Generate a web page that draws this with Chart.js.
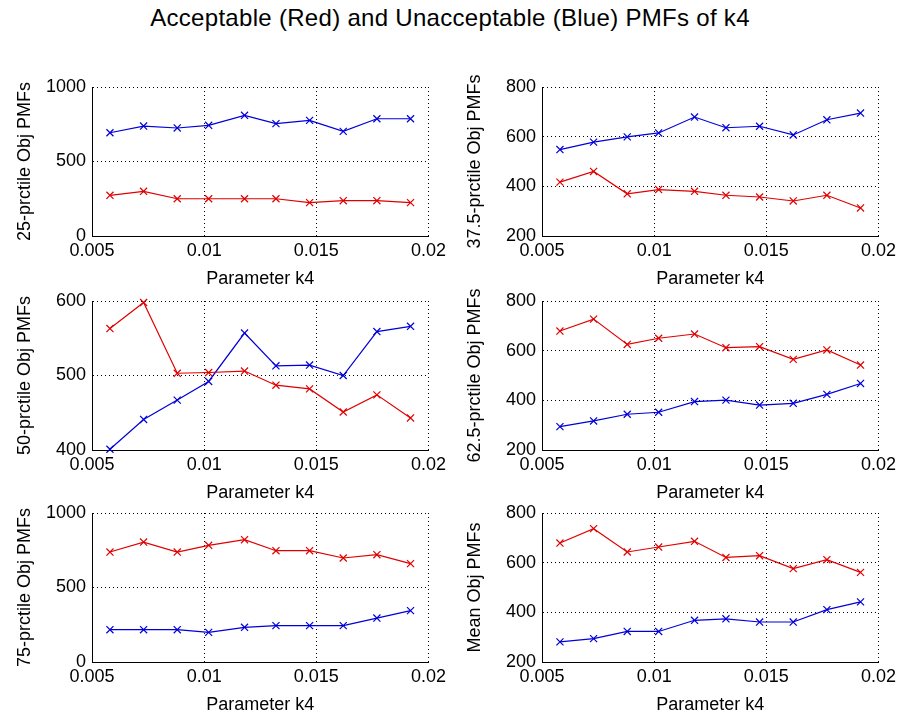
<!DOCTYPE html>
<html>
<head>
<meta charset="utf-8">
<script src="https://cdn.jsdelivr.net/npm/chart.js@4.4.1/dist/chart.umd.min.js"></script>
<style>
  body { margin: 0; background: #fff; }
  #wrap { position: relative; width: 900px; height: 721px; overflow: hidden; }
  #title { position: absolute; left: 0; top: 4px; width: 900px; text-align: center;
           font: 24px "Liberation Sans", Arial, sans-serif; line-height: 28px;
           letter-spacing: 0.3px; color: #000; }
  canvas { position: absolute; }
</style>
</head>
<body>
<div id="wrap">
  <div id="title">Acceptable (Red) and Unacceptable (Blue) PMFs of k4</div>
  <canvas id="c1" width="450" height="223" style="left:0;top:67px"></canvas>
  <canvas id="c2" width="450" height="223" style="left:450px;top:67px"></canvas>
  <canvas id="c3" width="450" height="223" style="left:0;top:281px"></canvas>
  <canvas id="c4" width="450" height="223" style="left:450px;top:281px"></canvas>
  <canvas id="c5" width="450" height="223" style="left:0;top:493px"></canvas>
  <canvas id="c6" width="450" height="223" style="left:450px;top:493px"></canvas>
</div>
<script>
// parameter k4 values (x axis)
const k4Values = [0.0058, 0.0073, 0.0088, 0.0102, 0.0118, 0.0132, 0.0147, 0.0162, 0.0177, 0.0192];

// acceptable (red) / unacceptable (blue) objective PMFs
const p25Red   = [273, 300, 250, 250, 250, 250, 224, 237, 237, 224];
const p25Blue  = [693, 738, 725, 743, 810, 754, 776, 702, 787, 787];
const p375Red  = [417, 460, 370, 387, 380, 364, 357, 341, 364, 313];
const p375Blue = [548, 578, 599, 615, 679, 636, 642, 607, 668, 695];
const p50Red   = [563, 598, 503, 504, 506, 487, 482, 451, 474, 443];
const p50Blue  = [401, 441, 467, 492, 557, 513, 514, 500, 559, 566];
const p625Red  = [679, 727, 625, 650, 667, 612, 616, 565, 603, 542];
const p625Blue = [294, 317, 344, 352, 395, 401, 381, 388, 424, 468];
const p75Red   = [738, 805, 738, 783, 821, 747, 747, 698, 720, 660];
const p75Blue  = [217, 217, 217, 199, 233, 244, 244, 244, 295, 345];
const meanRed  = [679, 737, 643, 663, 686, 621, 628, 576, 612, 561];
const meanBlue = [281, 294, 323, 323, 368, 374, 361, 361, 411, 442];

const xTitle = 'Parameter k4';
const xTicks = [0.005, 0.01, 0.015, 0.02];

const FONT = { family: '"Liberation Sans", Arial, sans-serif', size: 18 };

function series(ys, color) {
  return {
    data: k4Values.map((x, i) => ({ x: x, y: ys[i] })),
    borderColor: color,
    borderWidth: 1.2,
    pointStyle: 'crossRot',
    pointRadius: 5,
    pointBorderWidth: 1.2,
    pointBorderColor: color,
    tension: 0,
    clip: false
  };
}

function makePanel(id, yLabel, red, blue, yMin, yMax, yStep) {
  new Chart(document.getElementById(id), {
    type: 'line',
    data: { datasets: [series(red, '#e00000'), series(blue, '#0000d8')] },
    options: {
      responsive: false,
      animation: false,
      layout: { padding: { top: 20, right: 19, bottom: 0, left: 0 } },
      plugins: { legend: { display: false }, tooltip: { enabled: false } },
      scales: {
        x: {
          type: 'linear',
          min: 0.005, max: 0.02,
          afterBuildTicks: s => { s.ticks = xTicks.map(v => ({ value: v })); },
          afterFit: s => { s.height = 54; },
          ticks: { color: '#000', font: FONT, padding: 4, maxRotation: 0,
                   callback: v => String(+v.toFixed(4)) },
          grid: { color: '#000', lineWidth: 1, drawTicks: false },
          border: { color: '#000', width: 1, dash: [1, 3] },
          title: { display: true, text: xTitle, color: '#000', font: FONT, padding: 0 }
        },
        y: {
          min: yMin, max: yMax,
          afterFit: s => { s.width = 92; },
          ticks: { color: '#000', font: FONT, padding: 6, stepSize: yStep,
                   callback: v => String(v) },
          grid: { color: '#000', lineWidth: 1, drawTicks: false },
          border: { color: '#000', width: 1, dash: [1, 3] },
          title: { display: true, text: yLabel, color: '#000', font: FONT,
                   padding: { top: 14, bottom: 0 } }
        }
      }
    }
  });
}

makePanel('c1', '25-prctile Obj PMFs', p25Red, p25Blue, 0, 1000, 500);
makePanel('c2', '37.5-prctile Obj PMFs', p375Red, p375Blue, 200, 800, 200);
makePanel('c3', '50-prctile Obj PMFs', p50Red, p50Blue, 400, 600, 100);
makePanel('c4', '62.5-prctile Obj PMFs', p625Red, p625Blue, 200, 800, 200);
makePanel('c5', '75-prctile Obj PMFs', p75Red, p75Blue, 0, 1000, 500);
makePanel('c6', 'Mean Obj PMFs', meanRed, meanBlue, 200, 800, 200);
</script>
</body>
</html>
